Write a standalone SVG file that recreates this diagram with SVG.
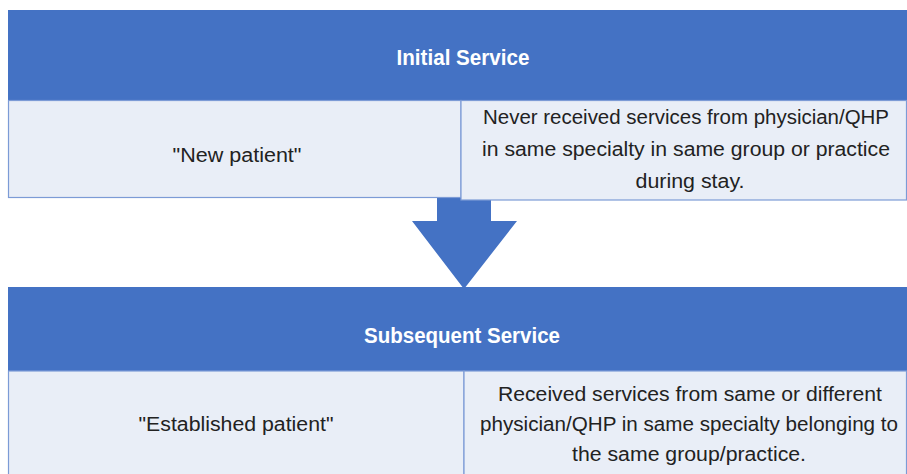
<svg xmlns="http://www.w3.org/2000/svg" width="907" height="474" viewBox="0 0 907 474">
<style>
.hdr{fill:#4472C4;}
.cell{fill:#E9EEF7;stroke:#7C9BD6;stroke-width:1.2;}
.ht{font-family:"Liberation Sans Narrow","Liberation Sans",Arial,sans-serif;font-weight:bold;font-size:22px;fill:#FFFFFF;text-anchor:middle;}
.bt{font-family:"Liberation Sans Narrow","Liberation Sans",Arial,sans-serif;font-size:20px;fill:#222222;text-anchor:middle;}
</style>
<rect width="907" height="474" fill="#FFFFFF"/>
<g id="connectors">
<polygon class="hdr" points="437,196 491,196 491,221 517,221 464,289 412,221 437,221"/>
</g>
<g id="initial-service">
<rect class="hdr" x="8" y="10" width="899" height="90"/>
<text class="ht" x="463" y="65" textLength="133" lengthAdjust="spacingAndGlyphs">Initial Service</text>
</g>
<g id="new-patient">
<rect class="cell" x="8.5" y="100.5" width="452.5" height="97"/>
<text class="bt" x="237" y="162" textLength="129" lengthAdjust="spacingAndGlyphs">"New patient"</text>
</g>
<g id="new-patient-desc">
<rect class="cell" x="461" y="100.5" width="445.5" height="99.5"/>
<text class="bt" x="686" y="124" textLength="406" lengthAdjust="spacingAndGlyphs">Never received services  from physician/QHP</text>
<text class="bt" x="686" y="156" textLength="408" lengthAdjust="spacingAndGlyphs">in same specialty in same group or practice</text>
<text class="bt" x="690" y="188" textLength="109" lengthAdjust="spacingAndGlyphs">during stay.</text>
</g>
<g id="subsequent-service">
<rect class="hdr" x="8" y="287" width="899" height="84"/>
<text class="ht" x="462" y="343" textLength="196" lengthAdjust="spacingAndGlyphs">Subsequent Service</text>
</g>
<g id="established-patient">
<rect class="cell" x="8.5" y="371" width="455.5" height="104"/>
<text class="bt" x="236" y="431" textLength="195" lengthAdjust="spacingAndGlyphs">"Established patient"</text>
</g>
<g id="established-patient-desc">
<rect class="cell" x="464" y="371" width="442.5" height="104"/>
<text class="bt" x="690" y="401" textLength="384" lengthAdjust="spacingAndGlyphs">Received services  from same or different</text>
<text class="bt" x="689" y="431" textLength="418" lengthAdjust="spacingAndGlyphs">physician/QHP in same specialty belonging to</text>
<text class="bt" x="689" y="461" textLength="234" lengthAdjust="spacingAndGlyphs">the same group/practice.</text>
</g>
</svg>
